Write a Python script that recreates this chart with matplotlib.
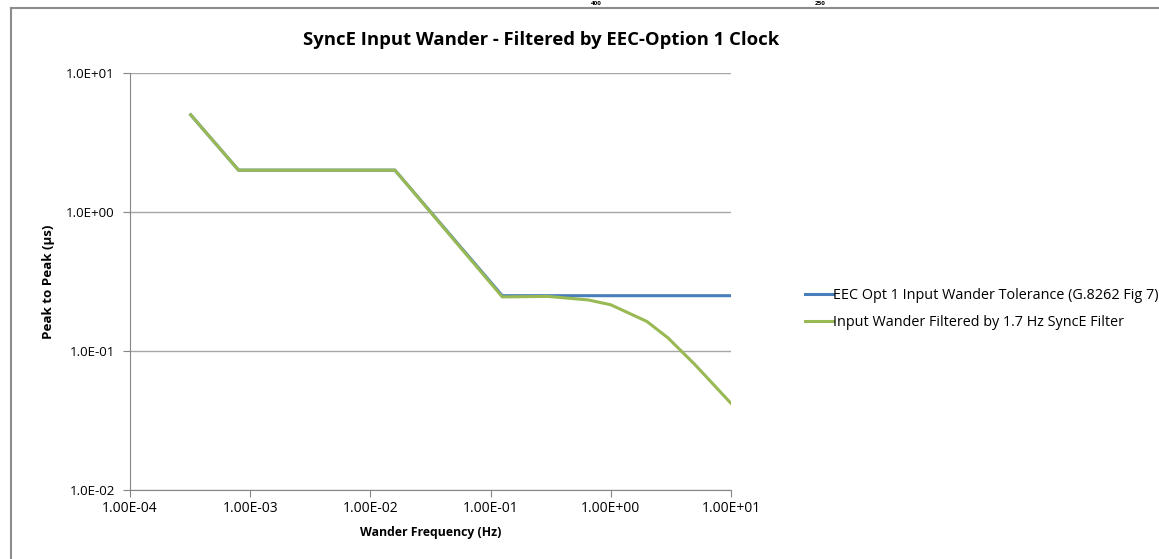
import matplotlib
matplotlib.use("Agg")
import matplotlib.pyplot as plt
from matplotlib.lines import Line2D
from matplotlib.ticker import FixedLocator, NullLocator

plt.rcParams['font.family'] = ['Open Sans', 'DejaVu Sans']

# ==========================================
# Data
# ==========================================
tol_freq = [3.2e-4, 8.0e-4, 1.6e-2, 0.125, 10.0]
tol_pp = [5.0, 2.0, 2.0, 0.25, 0.25]

filt_freq = [3.2e-4, 8.0e-4, 1.6e-2, 0.125, 0.3, 0.65, 1.0, 2.0, 3.0, 5.0, 10.0]
filt_pp = [5.0, 2.0, 2.0, 0.245, 0.247, 0.233, 0.215, 0.163, 0.124, 0.080, 0.042]

x_ticks = [1e-4, 1e-3, 1e-2, 1e-1, 1e0, 1e1]
x_labels = ['1.00E-04', '1.00E-03', '1.00E-02', '1.00E-01', '1.00E+00', '1.00E+01']
y_ticks = [1e-2, 1e-1, 1e0, 1e1]
y_labels = ['1.0E-02', '1.0E-01', '1.0E+00', '1.0E+01']

BLUE = '#4a7ebb'
GREEN = '#98b954'
GRID = '#a6a6a6'

# ==========================================
# Figure
# ==========================================
fig = plt.figure(figsize=(11.59, 5.59), dpi=100)
ax = fig.add_axes([130 / 1159, 1 - 490 / 559, 601 / 1159, 417 / 559])

ax.plot(tol_freq, tol_pp, color=BLUE, lw=2.2)
ax.plot(filt_freq, filt_pp, color=GREEN, lw=2.2)

ax.set_xscale('log')
ax.set_yscale('log')
ax.set_xlim(1e-4, 1e1)
ax.set_ylim(1e-2, 1e1)

ax.xaxis.set_major_locator(FixedLocator(x_ticks))
ax.xaxis.set_minor_locator(NullLocator())
ax.yaxis.set_major_locator(FixedLocator(y_ticks))
ax.yaxis.set_minor_locator(NullLocator())
ax.set_xticklabels(x_labels, fontsize=10)
ax.set_yticklabels(y_labels, fontsize=9.6)

ax.grid(True, axis='y', color=GRID, lw=1)
ax.set_axisbelow(True)
for side in ['top', 'right']:
    ax.spines[side].set_visible(False)
for side in ['left', 'bottom']:
    ax.spines[side].set_color('#868686')
ax.tick_params(axis='both', length=5, color='#868686', direction='out')
ax.tick_params(axis='y', pad=6)
ax.tick_params(axis='x', pad=3)

ax.set_xlabel('Wander Frequency (Hz)', fontsize=8.8, fontweight='bold', labelpad=7)
ax.set_ylabel('Peak to Peak (\u00b5s)', fontsize=9.6, fontweight='bold', labelpad=8)

fig.text(541 / 1159, 1 - 40 / 559, 'SyncE Input Wander - Filtered by EEC-Option 1 Clock',
         ha='center', va='center', fontsize=13.3, fontweight='bold')

# legend
handles = [Line2D([], [], color=BLUE, lw=2.2), Line2D([], [], color=GREEN, lw=2.2)]
labels = ['EEC Opt 1 Input Wander Tolerance (G.8262 Fig 7)',
          'Input Wander Filtered by 1.7 Hz SyncE Filter']
fig.legend(handles, labels, loc='center left', bbox_to_anchor=(798 / 1159, 1 - 309 / 559),
           frameon=False, fontsize=10.4, handlelength=1.9, handletextpad=0.05,
           labelspacing=0.85, borderpad=0)

# chart border and the labels of the chart above (only a sliver shows)
fig.add_artist(Line2D([10.5 / 1159, 10.5 / 1159], [0, 1 - 8 / 559], color='#8c8c8c', lw=1.5))
fig.add_artist(Line2D([10.5 / 1159, 1], [1 - 8 / 559, 1 - 8 / 559], color='#8c8c8c', lw=1.5))
fig.text(596 / 1159, 1 - 3.5 / 559, '400', ha='center', va='center', fontsize=4.5, fontweight='bold')
fig.text(820 / 1159, 1 - 3.5 / 559, '250', ha='center', va='center', fontsize=4.5, fontweight='bold')

fig.savefig('out.png', dpi=100)
